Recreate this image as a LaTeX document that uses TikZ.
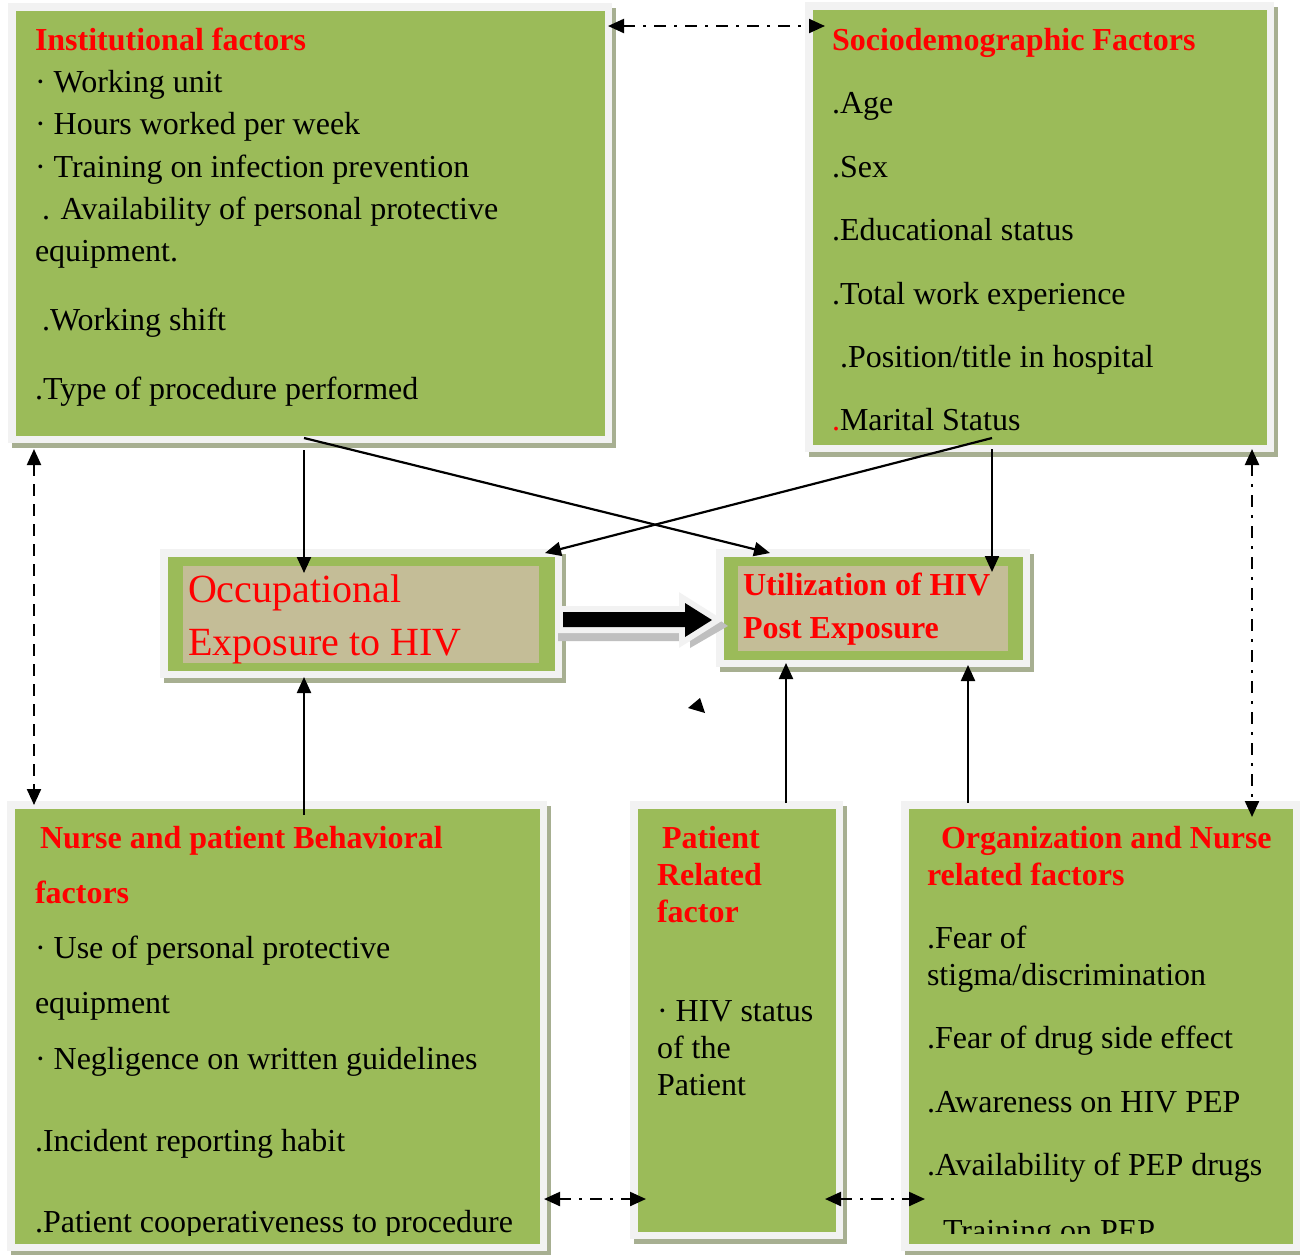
\documentclass[tikz,border=0pt]{standalone}
\usepackage{fontspec}
\setmainfont{Liberation Serif}
\usetikzlibrary{calc,arrows.meta,fit}
\definecolor{gr}{HTML}{9BBB59}
\definecolor{lg}{HTML}{F2F2F2}
\definecolor{sh}{HTML}{A7AF91}
\definecolor{tanc}{HTML}{C4BD97}
\definecolor{rd}{HTML}{FF0000}
\definecolor{arsh}{HTML}{BFBFBF}
\tikzset{
  panel/.style={fill=lg, inner sep=0pt, outer sep=0pt},
  inner/.style={fill=tanc, inner sep=0pt, outer sep=0pt},
  txt/.style={anchor=base west, inner sep=0pt, outer sep=0pt, font=\fontsize{16}{19}\selectfont},
  head/.style={txt, text=rd, font=\fontsize{16}{19}\selectfont\bfseries},
  big/.style={txt, text=rd, font=\fontsize{20}{24}\selectfont},
  tipx/.tip={Triangle[length=8pt,width=7pt]},
  con/.style={line width=1.1pt, -tipx},
  dashdot/.style={line width=1.1pt, tipx-tipx, dash pattern=on 6pt off 4pt on 1.5pt off 4pt},
  dashonly/.style={line width=1.1pt, tipx-tipx, dash pattern=on 6pt off 4pt},
}
\newcommand\panelbox[5]{%
  \fill[sh] (#2+4,#3+5) rectangle (#4+4,#5+5);
  \node[panel, fit={(#2,#3) (#4,#5)}] (#1) {};
  \fill[gr] (#2+7.5,#3+7.5) rectangle (#4-7.5,#5-7.5);
}
\begin{document}
\begin{tikzpicture}[x=0.5pt,y=-0.5pt]
\useasboundingbox[fill=white] (0,0) rectangle (1300,1254);

% panels
\panelbox{inst}{8}{3}{612}{443}
\panelbox{socio}{805}{2}{1274}{452}
\panelbox{occ}{160}{549}{562}{678}
\panelbox{util}{716}{549}{1030}{667}
\panelbox{beh}{7}{801}{547}{1251}
\panelbox{pat}{630}{801}{843}{1239}
\panelbox{org}{901}{801}{1300}{1251}
\node[inner, fit={(183,566) (539,663)}] (occin) {};
\node[inner, fit={(738,566) (1008,651)}] (utilin) {};

% institutional text
\node[head] (i0) at (35,50) {Institutional factors};
\node[txt] (i1) at (35,92) {· Working unit};
\node[txt] (i2) at (35,134) {· Hours worked per week};
\node[txt] (i3) at (35,177) {· Training on infection prevention};
\node[txt] (i4) at (42,219) {. Availability of personal protective};
\node[txt] (i5) at (35,261) {equipment.};
\node[txt] (i6) at (42,330) {.Working shift};
\node[txt] (i7) at (35,399) {.Type of procedure performed};

% sociodemographic text
\node[head] (s0) at (832,50) {Sociodemographic Factors};
\node[txt] (s1) at (832,113) {.Age};
\node[txt] (s2) at (832,177) {.Sex};
\node[txt] (s3) at (832,240) {.Educational status};
\node[txt] (s4) at (832,304) {.Total work experience};
\node[txt] (s5) at (840,367) {.Position/title in hospital};
\node[txt] (s6) at (832,430) {{\color{rd}.}Marital Status};

% centre boxes text
\node[big] (o1) at (188,602) {Occupational};
\node[big] (o2) at (188,655) {Exposure to HIV};
\node[head] (u1) at (743,595) {Utilization of HIV};
\node[head] (u2) at (743,638) {Post Exposure};

% bottom-left text
\begin{scope}
\clip (0,790) rectangle (560,1235);
\node[head] (b0) at (40,848) {Nurse and patient Behavioral};
\node[head] (b1) at (35,903) {factors};
\node[txt] (b2) at (35,958) {· Use of personal protective};
\node[txt] (b3) at (35,1013) {equipment};
\node[txt] (b4) at (35,1069) {· Negligence on written guidelines};
\node[txt] (b5) at (35,1151) {.Incident reporting habit};
\node[txt] (b6) at (35,1232) {.Patient cooperativeness to procedure};
\end{scope}

% middle bottom text
\node[head] (p0) at (662,848) {Patient};
\node[head] (p1) at (657,885) {Related};
\node[head] (p2) at (657,922) {factor};
\node[txt] (p3) at (657,1021) {· HIV status};
\node[txt] (p4) at (657,1058) {of the};
\node[txt] (p5) at (657,1095) {Patient};

% bottom-right text
\begin{scope}
\clip (900,790) rectangle (1300,1233);
\node[head] (r0) at (941,848) {Organization and Nurse};
\node[head] (r1) at (927,885) {related factors};
\node[txt] (r2) at (927,948) {.Fear of};
\node[txt] (r3) at (927,985) {stigma/discrimination};
\node[txt] (r4) at (927,1048) {.Fear of drug side effect};
\node[txt] (r5) at (927,1112) {.Awareness on HIV PEP};
\node[txt] (r6) at (927,1175) {.Availability of PEP drugs};
\node[txt] (r7) at (943,1241) {Training on PEP};
\end{scope}

% solid connectors
\draw[con] ($(inst.south west)+(296,7)$) -- ($(occ.north west)+(144,24)$);
\draw[con] ($(inst.south west)+(296,-5)$) -- ($(util.north west)+(54,4)$);
\draw[con] ($(socio.south west)+(187,-14)$) -- ($(occ.north east)+(-17,4)$);
\draw[con] ($(socio.south west)+(187,-3)$) -- ($(util.north west)+(276,23)$);
\draw[con] ($(beh.north west)+(297,14)$) -- ($(occ.south west)+(144,-1)$);
\draw[con] ($(pat.north west)+(156,2)$) -- ($(util.south west)+(70,-4)$);
\draw[con] ($(org.north west)+(67,2)$) -- ($(util.south west)+(252,-2)$);

% dashed connectors
\draw[dashdot] ($(inst.north east)+(-4,23)$) -- ($(socio.north west)+(20,24)$);
\draw[dashonly] ($(inst.south west)+(26,6)$) -- ($(beh.north west)+(27,4)$);
\draw[dashdot] ($(socio.south west)+(447,-3)$) -- ($(org.north west)+(351,16)$);
\draw[dashdot] ($(beh.south east)+(-3,-52)$) -- ($(pat.south west)+(16,-40)$);
\draw[dashdot] ($(pat.south east)+(-18,-40)$) -- ($(org.south west)+(24,-52)$);

% big arrow
\fill[arsh] (558,612) -- (690,612) -- (690,600) -- (728,626) -- (690,648) -- (690,641) -- (558,641) -- cycle;
\draw[lg, line width=6pt, fill=black] (563,612) -- (685,612) -- (685,603) -- (712,620) -- (685,637) -- (685,627) -- (563,627) -- cycle;
\fill[black] (563,612) -- (685,612) -- (685,603) -- (712,620) -- (685,637) -- (685,627) -- (563,627) -- cycle;

% stray arrowhead
\fill[black] (700,698) -- (688,708) -- (705,713) -- cycle;
\end{tikzpicture}
\end{document}
